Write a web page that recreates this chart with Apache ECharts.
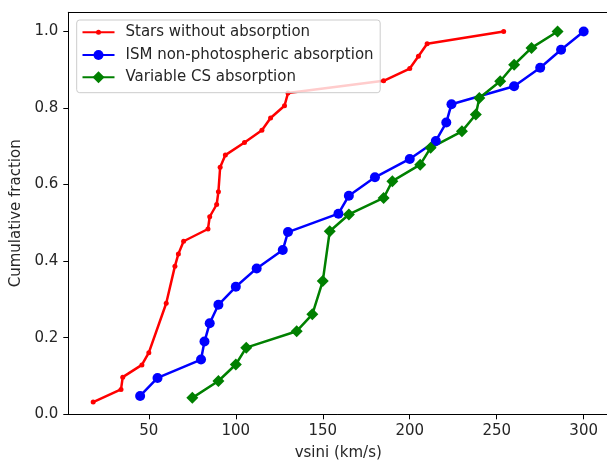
<!DOCTYPE html>
<html>
<head>
<meta charset="utf-8">
<script src="https://cdn.jsdelivr.net/npm/echarts@6/dist/echarts.min.js"></script>
<style>
  html, body { margin: 0; padding: 0; background: #fff; }
  #chart { width: 607px; height: 461px; }
</style>
</head>
<body>
<div id="chart"></div>
<script>
// Cumulative vsini distributions for three groups of stars
const starsNoAbsX = [18, 34, 35, 46, 50, 60, 65, 67, 70, 84, 85, 89, 90, 91, 94, 105, 115, 120, 128, 130, 185, 200, 205, 210, 254];
const starsNoAbsY = [0.032, 0.065, 0.097, 0.129, 0.161, 0.290, 0.387, 0.419, 0.452, 0.484, 0.516, 0.548, 0.581, 0.645, 0.677, 0.710, 0.742, 0.774, 0.806, 0.839, 0.871, 0.903, 0.935, 0.968, 1.0];

const ismX = [45, 55, 80, 82, 85, 90, 100, 112, 127, 130, 159, 165, 180, 200, 215, 221, 224, 260, 275, 287, 300];
const ismY = [0.048, 0.095, 0.143, 0.190, 0.238, 0.286, 0.333, 0.381, 0.429, 0.476, 0.524, 0.571, 0.619, 0.667, 0.714, 0.762, 0.810, 0.857, 0.905, 0.952, 1.0];

const varCsX = [75, 90, 100, 106, 135, 144, 150, 154, 165, 185, 190, 206, 212, 230, 238, 240, 252, 260, 270, 285];
const varCsY = [0.043, 0.087, 0.130, 0.174, 0.217, 0.261, 0.348, 0.478, 0.522, 0.565, 0.609, 0.652, 0.696, 0.739, 0.783, 0.826, 0.870, 0.913, 0.957, 1.0];

const xTicks = [50, 100, 150, 200, 250, 300];
const yTicks = [0, 0.2, 0.4, 0.6, 0.8, 1.0];

const seriesNames = ['Stars without absorption', 'ISM non-photospheric absorption', 'Variable CS absorption'];
const seriesColors = ['#ff0000', '#0000ff', '#008000'];
const seriesSymbols = ['circle', 'circle', 'diamond'];
const symbolSizes = [5, 10, 12];

const pairs = (xs, ys) => xs.map((x, i) => [x, ys[i]]);

const FONT = 'DejaVu Sans';
const TEXT = '#262626';

// Legend frame geometry (one legend per entry so each keeps its own marker size)
const LEG_LEFT = 76.7, LEG_TOP = 20, LEG_W = 303.5, LEG_H = 72.7;
const ROW_CENTERS = [31.7, 54.5, 77.3];
const TEXT_HALF = 7;

const legends = seriesNames.map((name, i) => {
  const h = symbolSizes[i] / 0.8;
  return {
    orient: 'vertical',
    left: 81.5,
    top: ROW_CENTERS[i] - Math.max(h / 2, TEXT_HALF),
    padding: 0,
    itemWidth: 32, itemHeight: h, itemGap: 0,
    z: 5,
    textStyle: { fontFamily: FONT, fontSize: 15, color: TEXT, padding: [0, 0, 0, 6] },
    data: [name]
  };
});

const chart = echarts.init(document.getElementById('chart'), null, { renderer: 'canvas' });

chart.setOption({
  animation: false,
  backgroundColor: '#fff',
  textStyle: { fontFamily: FONT },
  grid: {
    left: 68.3, top: 12.3, width: 539.9, height: 402,
    show: false, outerBoundsMode: 'none'
  },
  legend: legends,
  graphic: [{
    type: 'rect', z: 4,
    shape: { x: LEG_LEFT, y: LEG_TOP, width: LEG_W, height: LEG_H, r: 3 },
    style: { fill: 'rgba(255,255,255,0.8)', stroke: '#cccccc', lineWidth: 1 }
  }],
  xAxis: [{
    type: 'value', min: 3.7, max: 314.1,
    name: 'vsini (km/s)', nameLocation: 'middle', nameGap: 31,
    nameTextStyle: { fontFamily: FONT, fontSize: 15, color: TEXT },
    axisLine: { show: true, onZero: false, lineStyle: { color: '#000', width: 1 } },
    axisTick: { show: true, length: 5, inside: false, customValues: xTicks, lineStyle: { color: '#000' } },
    axisLabel: { customValues: xTicks, margin: 9, fontFamily: FONT, fontSize: 15, color: TEXT },
    splitLine: { show: false }
  }, {
    // top frame line
    type: 'value', position: 'top', min: 3.7, max: 314.1,
    axisLine: { show: true, onZero: false, lineStyle: { color: '#000', width: 1 } },
    axisTick: { show: false }, axisLabel: { show: false }, splitLine: { show: false }
  }],
  yAxis: {
    type: 'value', min: 0, max: 1.05,
    name: 'Cumulative fraction', nameLocation: 'middle', nameGap: 38,
    nameTextStyle: { fontFamily: FONT, fontSize: 15, color: TEXT },
    axisLine: { show: true, onZero: false, lineStyle: { color: '#000', width: 1 } },
    axisTick: { show: true, length: 5, inside: false, customValues: yTicks, lineStyle: { color: '#000' } },
    axisLabel: { customValues: yTicks, margin: 10, fontFamily: FONT, fontSize: 15, color: TEXT,
      formatter: v => v.toFixed(1) },
    splitLine: { show: false }
  },
  series: [
    [starsNoAbsX, starsNoAbsY],
    [ismX, ismY],
    [varCsX, varCsY]
  ].map(([xs, ys], i) => ({
    name: seriesNames[i], type: 'line', data: pairs(xs, ys),
    color: seriesColors[i], symbol: seriesSymbols[i], symbolSize: symbolSizes[i], showAllSymbol: true,
    lineStyle: { width: 2.5, color: seriesColors[i] }, itemStyle: { color: seriesColors[i] }
  }))
});
</script>
</body>
</html>
